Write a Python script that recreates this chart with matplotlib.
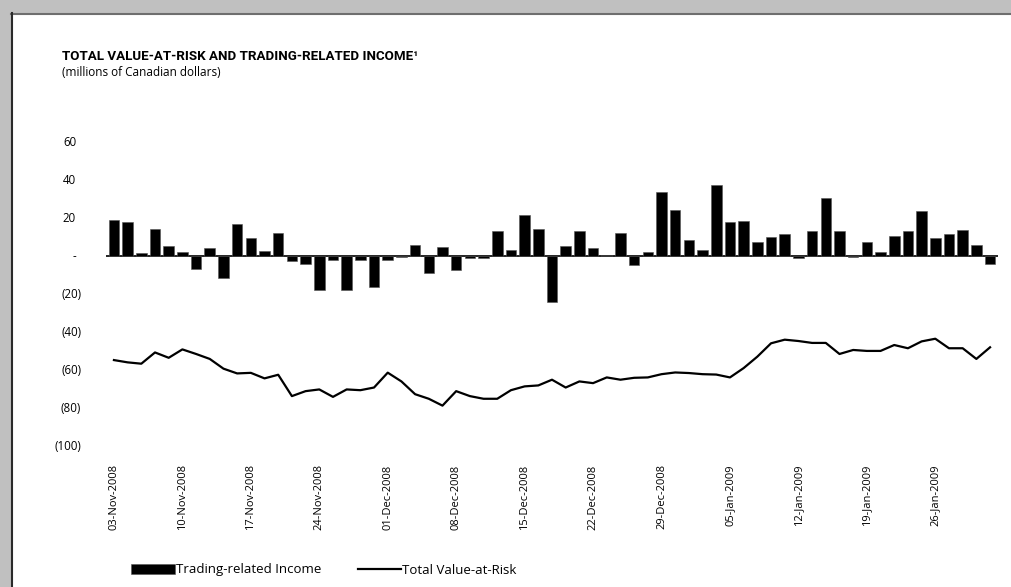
import matplotlib
matplotlib.use("Agg")
import matplotlib.pyplot as plt
from matplotlib.patches import Rectangle
from matplotlib.lines import Line2D
import numpy as np

plt.rcParams['font.family'] = ['Open Sans', 'DejaVu Sans']

# daily trading-related income (millions CAD), 03-Nov-2008 .. 30-Jan-2009
income = [19.0, 18.0, 1.6, 14.5, 5.6, 2.1, -6.4, 4.2, -11.2, 17.2,
          9.8, 2.6, 12.2, -2.4, -4.0, -17.8, -1.9, -17.8, -1.9, -16.2,
          -1.9, -0.3, 6.1, -8.5, 5.1, -7.0, -0.9, -0.9, 13.3, 3.5,
          21.5, 14.3, -23.9, 5.6, 13.3, 4.2, 0.5, 12.2, -4.5, 2.4,
          33.9, 24.1, 8.7, 3.5, 37.2, 17.8, 18.3, 7.7, 10.3, 11.9,
          -0.9, 13.3, 30.7, 13.3, -0.2, 7.7, 2.1, 10.8, 13.4, 23.6,
          9.4, 11.9, 14.0, 6.1, -4.0]

# total value-at-risk
var = [-54.4, -55.6, -56.3, -50.4, -53.2, -48.8, -51.2, -53.8, -58.9, -61.4,
       -61.1, -64.0, -62.1, -73.3, -70.7, -69.8, -73.7, -69.8, -70.2, -68.8,
       -61.0, -65.6, -72.3, -74.7, -78.3, -70.7, -73.3, -74.7, -74.7, -70.2,
       -68.2, -67.7, -64.7, -68.8, -65.6, -66.5, -63.5, -64.7, -63.7, -63.5,
       -61.8, -60.9, -61.2, -61.8, -62.0, -63.5, -58.6, -52.6, -45.6, -43.7,
       -44.4, -45.4, -45.4, -51.2, -49.1, -49.6, -49.6, -46.5, -48.2, -44.6,
       -43.2, -48.2, -48.2, -53.8, -47.7]

date_labels = ["03-Nov-2008", "10-Nov-2008", "17-Nov-2008", "24-Nov-2008",
               "01-Dec-2008", "08-Dec-2008", "15-Dec-2008", "22-Dec-2008",
               "29-Dec-2008", "05-Jan-2009", "12-Jan-2009", "19-Jan-2009",
               "26-Jan-2009"]
y_ticks = [60, 40, 20, 0, -20, -40, -60, -80, -100]
y_labels = ["60", "40", "20", "-", "(20)", "(40)", "(60)", "(80)", "(100)"]

W, H = 1011, 587
fig = plt.figure(figsize=(W / 100, H / 100), dpi=100)
fig.patch.set_facecolor('#c0c0c0')

# white page with its border
fig.patches.append(Rectangle((11 / W, 0), 1 - 11 / W, 1 - 13 / H,
                             transform=fig.transFigure, facecolor='white',
                             edgecolor='none', zorder=-2))
fig.add_artist(Line2D([11 / W, 1], [1 - 13.5 / H, 1 - 13.5 / H],
                      transform=fig.transFigure, color='#6e6e6e', lw=1.5, zorder=-1))
fig.add_artist(Line2D([11.8 / W, 11.8 / W], [0, 1 - 13 / H],
                      transform=fig.transFigure, color='#2a2a2a', lw=1.5, zorder=-1))

ax = fig.add_axes([106 / W, 1 - 447 / H, (998 - 106) / W, (447 - 142) / H])
ax.set_facecolor('none')
ax.set_zorder(1)

x = np.arange(len(income))
bars = ax.bar(x, income, width=0.77, color='black', edgecolor='#555555', linewidth=0.4,
              zorder=2)
line, = ax.plot(x, var, color='black', lw=1.6, zorder=3)
ax.axhline(0, color='black', lw=1.2, zorder=1)

ax.set_xlim(-0.58, len(income) - 1 + 0.58)
ax.set_ylim(-100, 60)
for s in ax.spines.values():
    s.set_visible(False)
ax.set_yticks([])
ax.set_xticks(x[::5])
ax.set_xticklabels(date_labels, rotation=90, fontsize=8)
ax.tick_params(axis='x', length=0, pad=12.5)

# accounting style y labels: positives sit left of the closing parenthesis
ytr = ax.get_yaxis_transform()
for v, lab in zip(y_ticks, y_labels):
    xr = -0.0336 if v >= 0 else -0.028
    ax.text(xr, v, lab, transform=ytr, ha='right', va='center', fontsize=8.3)

fig.text(62 / W, 1 - 56 / H, "TOTAL VALUE-AT-RISK AND TRADING-RELATED INCOME\u00b9",
         fontsize=9.6, fontweight='bold', ha='left', va='center',
         family=['Roboto', 'DejaVu Sans'])
fig.text(62 / W, 1 - 73 / H, "(millions of Canadian dollars)",
         fontsize=8.5, ha='left', va='center')

fig.legend([bars, line], ['Trading-related Income', 'Total Value-at-Risk'],
           loc='center left', bbox_to_anchor=(131 / W, 1 - 570 / H),
           ncol=2, frameon=False, fontsize=9.5, handlelength=3.3,
           handleheight=0.75, handletextpad=0.1, columnspacing=2.75,
           borderaxespad=0, borderpad=0)

fig.savefig("out.png", dpi=100, facecolor=fig.get_facecolor())
